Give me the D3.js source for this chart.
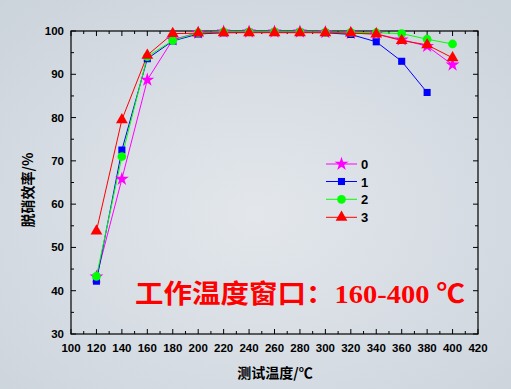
<!DOCTYPE html>
<html><head><meta charset="utf-8">
<script src="https://cdn.jsdelivr.net/npm/d3@7"></script>
<style>body{margin:0;padding:0;overflow:hidden}svg{display:block}</style>
</head><body>
<script>
const temps = [120,140,160,180,200,220,240,260,280,300,320,340,360,380,400];
const s0 = [43.2,65.8,88.7,98.0,99.6,99.8,99.8,99.8,99.8,99.7,99.5,99.3,98.0,96.5,92.2];
const s1 = [42.2,72.5,93.6,97.7,99.3,99.6,99.7,99.7,99.7,99.6,99.2,97.5,93.0,85.8,null];
const s2 = [43.3,71.0,94.1,97.8,99.6,99.8,99.8,99.8,99.8,99.7,99.7,99.6,99.4,98.1,97.0];
const s3 = [53.8,79.5,94.4,99.4,99.5,99.6,99.6,99.6,99.6,99.6,99.5,99.3,97.8,96.8,93.8];
const seriesNames = ["0","1","2","3"];
const seriesColors = ["#ff00ff","#0000ff","#00ff00","#ff0000"];
const seriesSymbols = ["star","square","circle","triangle"];
const xTicks = d3.range(100,421,20);
const yTicks = d3.range(30,101,10);

const W=511,H=389;
const svg=d3.select("body").append("svg").attr("width",W).attr("height",H);
const defs=svg.append("defs");
const rg=defs.append("radialGradient").attr("id","bg").attr("cx","50%").attr("cy","55%").attr("r","75%");
rg.append("stop").attr("offset","0%").attr("stop-color","#e3e7ec");
rg.append("stop").attr("offset","100%").attr("stop-color","#cbd3db");
svg.append("rect").attr("width",W).attr("height",H).attr("fill","url(#bg)");

const x=d3.scaleLinear().domain([100,420]).range([71,478]);
const y=d3.scaleLinear().domain([30,100]).range([334,31]);

const g=svg.append("g");
// frame
g.append("rect").attr("x",71).attr("y",31).attr("width",407).attr("height",303)
 .attr("fill","none").attr("stroke","#000").attr("stroke-width",1.2);

// ticks
const xMinor=d3.range(110,420,20), yMinor=d3.range(35,100,10);
const tk=g.append("g").attr("stroke","#000").attr("stroke-width",1);
xTicks.forEach(v=>{tk.append("line").attr("x1",x(v)).attr("x2",x(v)).attr("y1",334).attr("y2",329);
 tk.append("line").attr("x1",x(v)).attr("x2",x(v)).attr("y1",31).attr("y2",36);});
xMinor.forEach(v=>{tk.append("line").attr("x1",x(v)).attr("x2",x(v)).attr("y1",334).attr("y2",331);
 tk.append("line").attr("x1",x(v)).attr("x2",x(v)).attr("y1",31).attr("y2",34);});
yTicks.forEach(v=>{tk.append("line").attr("x1",71).attr("x2",76).attr("y1",y(v)).attr("y2",y(v));
 tk.append("line").attr("x1",478).attr("x2",473).attr("y1",y(v)).attr("y2",y(v));});
yMinor.forEach(v=>{tk.append("line").attr("x1",71).attr("x2",74).attr("y1",y(v)).attr("y2",y(v));
 tk.append("line").attr("x1",478).attr("x2",475).attr("y1",y(v)).attr("y2",y(v));});

const lblFont="Liberation Sans, Arial, sans-serif";
g.selectAll(".xl").data(xTicks).enter().append("text").attr("x",d=>x(d)).attr("y",352)
 .attr("text-anchor","middle").attr("font-family",lblFont).attr("font-weight","bold").attr("font-size",11.5).text(d=>d);
g.selectAll(".yl").data(yTicks).enter().append("text").attr("x",64).attr("y",d=>y(d)+4)
 .attr("text-anchor","end").attr("font-family",lblFont).attr("font-weight","bold").attr("font-size",11.5).text(d=>d);

// titles
svg.append("text").attr("x",275).attr("y",378).attr("text-anchor","middle")
 .attr("font-family","Noto Sans CJK SC, sans-serif").attr("font-weight","bold").attr("font-size",14).text("测试温度/℃");
svg.append("text").attr("transform","translate(33,190) rotate(-90)").attr("text-anchor","middle")
 .attr("font-family","Noto Sans CJK SC, sans-serif").attr("font-weight","bold").attr("font-size",14).text("脱硝效率/%");

// series
const symMap={star:d3.symbolStar,square:d3.symbolSquare,circle:d3.symbolCircle,triangle:d3.symbolTriangle};
const symSize={star:60,square:50,circle:60,triangle:60};
const allSeries=[s0,s1,s2,s3];
const line=d3.line().defined(d=>d[1]!=null).x(d=>x(d[0])).y(d=>y(d[1]));
allSeries.forEach((s,i)=>{
  const pts=temps.map((t,j)=>[t,s[j]]);
  g.append("path").attr("d",line(pts)).attr("fill","none").attr("stroke",seriesColors[i]).attr("stroke-width",1);
});
allSeries.forEach((s,i)=>{
  const pts=temps.map((t,j)=>[t,s[j]]).filter(d=>d[1]!=null);
  const sym=d3.symbol().type(symMap[seriesSymbols[i]]).size(symSize[seriesSymbols[i]]);
  g.selectAll(null).data(pts).enter().append("path").attr("d",sym)
   .attr("transform",d=>`translate(${x(d[0])},${y(d[1])})`).attr("fill",seriesColors[i]);
});

// legend
const lg=svg.append("g");
const ly=[164,181.5,199.3,217.3];
seriesNames.forEach((n,i)=>{
  lg.append("line").attr("x1",326).attr("x2",357).attr("y1",ly[i]).attr("y2",ly[i]).attr("stroke",seriesColors[i]).attr("stroke-width",1);
  const sym=d3.symbol().type(symMap[seriesSymbols[i]]).size(symSize[seriesSymbols[i]]);
  lg.append("path").attr("d",sym).attr("transform",`translate(341.5,${ly[i]})`).attr("fill",seriesColors[i]);
  lg.append("text").attr("x",361).attr("y",ly[i]+5).attr("font-family",lblFont).attr("font-weight","bold").attr("font-size",13).text(n);
});

// annotation
svg.append("text").attr("x",135).attr("y",303).attr("fill","#ff0000")
 .attr("font-family","Liberation Serif, Noto Sans CJK SC, serif").attr("font-weight","bold").attr("font-size",26)
 .attr("textLength",330).attr("lengthAdjust","spacingAndGlyphs")
 .text("工作温度窗口：160-400 ℃");
</script>
</body></html>
